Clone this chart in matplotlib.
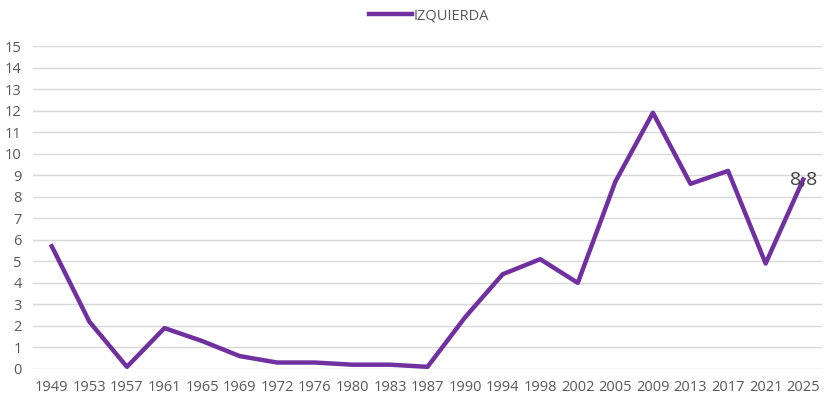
import matplotlib.pyplot as plt
import numpy as np

years = ["1949", "1953", "1957", "1961", "1965", "1969", "1972", "1976", "1980", "1983",
         "1987", "1990", "1994", "1998", "2002", "2005", "2009", "2013", "2017", "2021", "2025"]
izquierda = [5.7, 2.2, 0.1, 1.9, 1.3, 0.6, 0.3, 0.3, 0.2, 0.2,
             0.1, 2.4, 4.4, 5.1, 4.0, 8.7, 11.9, 8.6, 9.2, 4.9, 8.8]

plt.rcParams['font.family'] = ['Open Sans', 'DejaVu Sans']

fig = plt.figure(figsize=(8.32, 4.16), dpi=100)
ax = fig.add_axes([33 / 832, 1 - 369 / 416, (822 - 33) / 832, (369 - 46) / 416])

x = np.arange(len(years))
ax.plot(x, izquierda, color='#7030a0', linewidth=3.2, label='IZQUIERDA',
        clip_on=False, zorder=3)

ax.set_xlim(-0.5, len(years) - 0.5)
ax.set_ylim(0, 15)
ax.set_yticks(range(16))
ax.set_xticks(x)
ax.set_xticklabels(years)
ax.grid(axis='y', color='#d9d9d9', linewidth=1)
ax.set_axisbelow(True)
for s in ax.spines.values():
    s.set_visible(False)
ax.tick_params(length=0, labelsize=10.5, labelcolor='#595959')
ax.tick_params(axis='y', pad=8)
ax.tick_params(axis='x', pad=8)

ax.annotate('8,8', (x[-1], izquierda[-1]), ha='center', va='center',
            fontsize=14, color='#404040', zorder=4)

fig.legend(loc='upper center', bbox_to_anchor=(0.516, 1.012), frameon=False,
           fontsize=10.5, labelcolor='#595959', handlelength=2.9, handletextpad=0.15)

fig.savefig('out.png', dpi=100)
